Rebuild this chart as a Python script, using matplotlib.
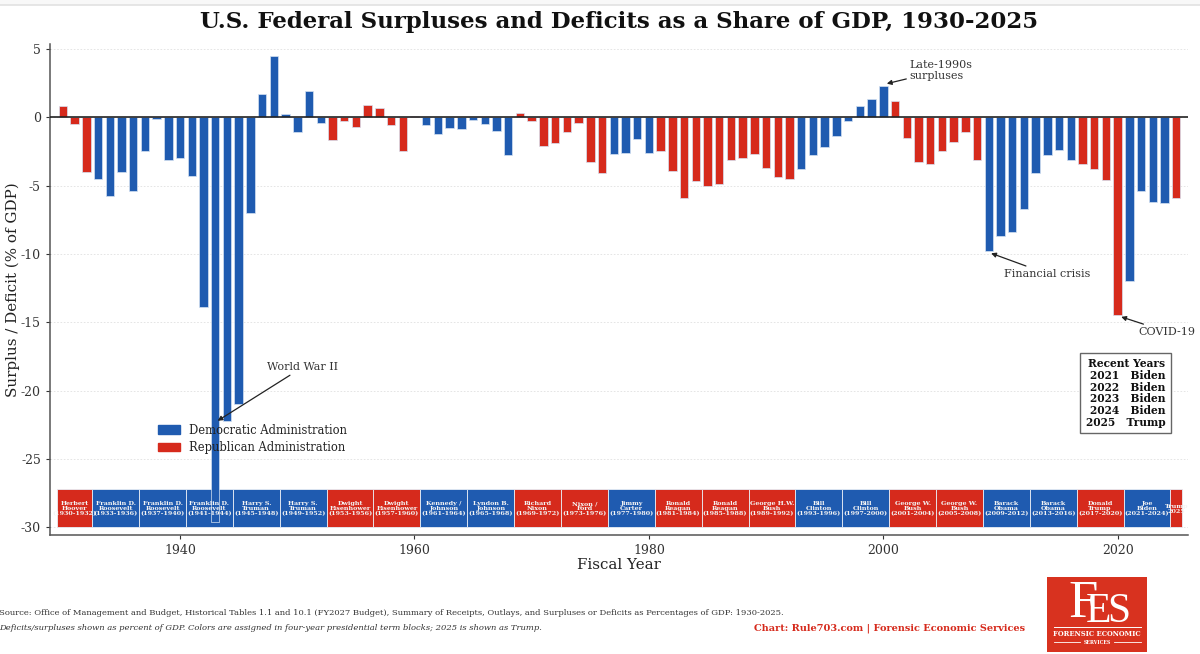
import matplotlib

matplotlib.use("Agg")
import matplotlib.pyplot as plt
from matplotlib.lines import Line2D
from matplotlib.patches import Patch, Rectangle

DEM = "#1f5bb0"
REP = "#d62a1c"

years = list(range(1930, 2026))
balance = [
    0.8, -0.5, -4.0, -4.5, -5.8, -4.0, -5.4, -2.5, -0.1, -3.1,
    -3.0, -4.3, -13.9, -29.6, -22.2, -21.0, -7.0, 1.7, 4.5, 0.2,
    -1.1, 1.9, -0.4, -1.7, -0.3, -0.7, 0.9, 0.7, -0.6, -2.5,
    0.1, -0.6, -1.2, -0.8, -0.9, -0.2, -0.5, -1.0, -2.8, 0.3,
    -0.3, -2.1, -1.9, -1.1, -0.4, -3.3, -4.1, -2.7, -2.6, -1.6,
    -2.6, -2.5, -3.9, -5.9, -4.7, -5.0, -4.9, -3.1, -3.0, -2.7,
    -3.7, -4.4, -4.5, -3.8, -2.8, -2.2, -1.4, -0.3, 0.8, 1.3,
    2.3, 1.2, -1.5, -3.3, -3.4, -2.5, -1.8, -1.1, -3.1, -9.8,
    -8.7, -8.4, -6.7, -4.1, -2.8, -2.4, -3.1, -3.4, -3.8, -4.6,
    -14.5, -12.0, -5.4, -6.2, -6.3, -5.9,
]

term_labels = [
    "Herbert\nHoover\n(1930-1932)", "Franklin D.\nRoosevelt\n(1933-1936)",
    "Franklin D.\nRoosevelt\n(1937-1940)", "Franklin D.\nRoosevelt\n(1941-1944)",
    "Harry S.\nTruman\n(1945-1948)", "Harry S.\nTruman\n(1949-1952)",
    "Dwight\nEisenhower\n(1953-1956)", "Dwight\nEisenhower\n(1957-1960)",
    "Kennedy /\nJohnson\n(1961-1964)", "Lyndon B.\nJohnson\n(1965-1968)",
    "Richard\nNixon\n(1969-1972)", "Nixon /\nFord\n(1973-1976)",
    "Jimmy\nCarter\n(1977-1980)", "Ronald\nReagan\n(1981-1984)",
    "Ronald\nReagan\n(1985-1988)", "George H.W.\nBush\n(1989-1992)",
    "Bill\nClinton\n(1993-1996)", "Bill\nClinton\n(1997-2000)",
    "George W.\nBush\n(2001-2004)", "George W.\nBush\n(2005-2008)",
    "Barack\nObama\n(2009-2012)", "Barack\nObama\n(2013-2016)",
    "Donald\nTrump\n(2017-2020)", "Joe\nBiden\n(2021-2024)", "Trump\n2025",
]
term_first = [1930, 1933, 1937, 1941, 1945, 1949, 1953, 1957, 1961, 1965, 1969, 1973,
              1977, 1981, 1985, 1989, 1993, 1997, 2001, 2005, 2009, 2013, 2017, 2021, 2025]
term_last = [1932, 1936, 1940, 1944, 1948, 1952, 1956, 1960, 1964, 1968, 1972, 1976,
             1980, 1984, 1988, 1992, 1996, 2000, 2004, 2008, 2012, 2016, 2020, 2024, 2025]
term_party = ["R", "D", "D", "D", "D", "D", "R", "R", "D", "D", "R", "R",
              "D", "R", "R", "R", "D", "D", "R", "R", "D", "D", "R", "D", "R"]

recent_years = ["2021", "2022", "2023", "2024", "2025"]
recent_names = ["Biden", "Biden", "Biden", "Biden", "Trump"]

plt.rcParams["font.family"] = "DejaVu Serif"
plt.rcParams["axes.unicode_minus"] = False

# colour of each year comes from the term it falls in
bar_colors = []
for y in years:
    for first, last, party in zip(term_first, term_last, term_party):
        if first <= y <= last:
            bar_colors.append(DEM if party == "D" else REP)

fig = plt.figure(figsize=(12, 6.54), dpi=100)
ax = fig.add_axes([50 / 1200, 1 - 535 / 654, 1138 / 1200, 491 / 654])

# pale strip at the very top of the picture
fig.add_artist(Rectangle((0, 1 - 5 / 654), 1, 5 / 654, transform=fig.transFigure, facecolor="#f8f8f8", edgecolor="none"))
fig.add_artist(Line2D([0, 1], [1 - 5 / 654] * 2, color="#e2e2e2", linewidth=1.2))

ax.bar(years, balance, width=0.72, color=bar_colors, edgecolor="#d5e2f2", linewidth=0.5, zorder=3)
ax.axhline(0, color="#222222", linewidth=1.2, zorder=4)

# presidential term strip along the bottom
for label, first, last, party in zip(term_labels, term_first, term_last, term_party):
    c = DEM if party == "D" else REP
    ax.add_patch(Rectangle((first - 0.5, -30.0), last - first + 1, 2.8, facecolor=c,
                           edgecolor="#e8eef6", linewidth=0.6, zorder=2))
    ax.text((first + last) / 2, -28.65, label, color="#f4f4f4", fontsize=4.6, fontweight="bold",
            ha="center", va="center", linespacing=1.0, zorder=5)

ax.set_xlim(1928.9, 2026.0)
ax.set_ylim(-30.55, 5.35)
ax.set_yticks([5, 0, -5, -10, -15, -20, -25, -30])
ax.set_xticks([1940, 1960, 1980, 2000, 2020])
ax.tick_params(labelsize=9, colors="#333333", length=3, width=0.8)
ax.grid(axis="y", color="#e0e0e0", linestyle=(0, (2, 2)), linewidth=0.6, zorder=0)
ax.set_axisbelow(True)
for side in ["top", "right"]:
    ax.spines[side].set_visible(False)
for side in ["left", "bottom"]:
    ax.spines[side].set_color("#555555")
    ax.spines[side].set_linewidth(1.1)

ax.set_xlabel("Fiscal Year", fontsize=10.8, color="#222222")
ax.set_ylabel("Surplus / Deficit (% of GDP)", fontsize=10.9, color="#222222")
ax.xaxis.set_label_coords(0.5, -0.047)
ax.yaxis.set_label_coords(-0.0262, 0.5)

arrow = dict(arrowstyle="-|>", color="#222222", linewidth=0.9, mutation_scale=7, shrinkA=0, shrinkB=0)
ax.annotate("World War II", xy=(1943.2, -22.2), xytext=(1947.4, -18.3), fontsize=7.9, color="#333333",
            va="center", arrowprops=arrow, zorder=6)
ax.annotate("Late-1990s\nsurpluses", xy=(2000.3, 2.45), xytext=(2002.2, 3.4), fontsize=8, color="#333333",
            va="center", linespacing=1.2, arrowprops=arrow, zorder=6)
ax.annotate("Financial crisis", xy=(2009.2, -9.95), xytext=(2010.3, -11.45), fontsize=8, color="#333333",
            va="center", arrowprops=arrow, zorder=6)
ax.annotate("COVID-19", xy=(2020.3, -14.6), xytext=(2021.8, -15.7), fontsize=8, color="#333333",
            va="center", arrowprops=arrow, zorder=6, annotation_clip=False)

handles = [Patch(color=DEM, label="Democratic Administration"), Patch(color=REP, label="Republican Administration")]
ax.legend(handles=handles, loc="lower left", bbox_to_anchor=(0.0901, 0.153), frameon=False, fontsize=8.3,
          handlelength=1.9, handleheight=0.7, labelspacing=0.4, borderpad=0, labelcolor="#222222")

recent_rows = ["Recent Years"] + [f"{y}   {n}" for y, n in zip(recent_years, recent_names)]
fig.text(1125.5 / 1200, 1 - 393 / 654, "\n".join(recent_rows), fontsize=7.7, fontweight="bold", color="#111111",
         ha="center", va="center", multialignment="right", linespacing=1.07,
         bbox=dict(boxstyle="square,pad=0.5", facecolor="white", edgecolor="#666666", linewidth=1.0))

fig.suptitle("U.S. Federal Surpluses and Deficits as a Share of GDP, 1930-2025", x=619 / 1200, y=1 - 22 / 654,
             fontsize=16.5, fontweight="bold", color="#111111", va="center")

fig.text(-1 / 1200, 1 - 613 / 654,
         "Source: Office of Management and Budget, Historical Tables 1.1 and 10.1 (FY2027 Budget), "
         "Summary of Receipts, Outlays, and Surpluses or Deficits as Percentages of GDP: 1930-2025.",
         fontsize=6.0, color="#333333", va="center")
fig.text(-1 / 1200, 1 - 628 / 654,
         "Deficits/surpluses shown as percent of GDP. Colors are assigned in four-year presidential "
         "term blocks; 2025 is shown as Trump.",
         fontsize=6.05, color="#333333", style="italic", va="center")
fig.text(754 / 1200, 1 - 628 / 654, "Chart: Rule703.com | Forensic Economic Services", fontsize=7, color=REP,
         fontweight="bold", va="center")

# logo block, bottom right: tall F overlapping a smaller ES
fig.add_artist(Rectangle((1047 / 1200, 1 - 652 / 654), 100 / 1200, 75 / 654, transform=fig.transFigure,
                         facecolor="#d8321f", edgecolor="none"))
fig.text(1068 / 1200, 1 - 617 / 654, "F", family="Liberation Serif", fontsize=38, color="white", va="baseline")
fig.text(1086 / 1200, 1 - 622 / 654, "E", family="Liberation Serif", fontsize=30, color="white", va="baseline")
fig.text(1107 / 1200, 1 - 622 / 654, "S", family="Liberation Serif", fontsize=30, color="white", va="baseline")
fig.add_artist(Line2D([1054 / 1200, 1141 / 1200], [1 - 627 / 654] * 2, color="white", linewidth=0.7))
fig.text(1097 / 1200, 1 - 634 / 654, "FORENSIC ECONOMIC", fontsize=4.9, color="white", fontweight="bold",
         ha="center", va="center")
fig.text(1097 / 1200, 1 - 642 / 654, "SERVICES", fontsize=3.4, color="white", fontweight="bold",
         ha="center", va="center")
fig.add_artist(Line2D([1054 / 1200, 1080 / 1200], [1 - 642 / 654] * 2, color="white", linewidth=0.6))
fig.add_artist(Line2D([1114 / 1200, 1141 / 1200], [1 - 642 / 654] * 2, color="white", linewidth=0.6))

fig.savefig("out.png", dpi=100)
